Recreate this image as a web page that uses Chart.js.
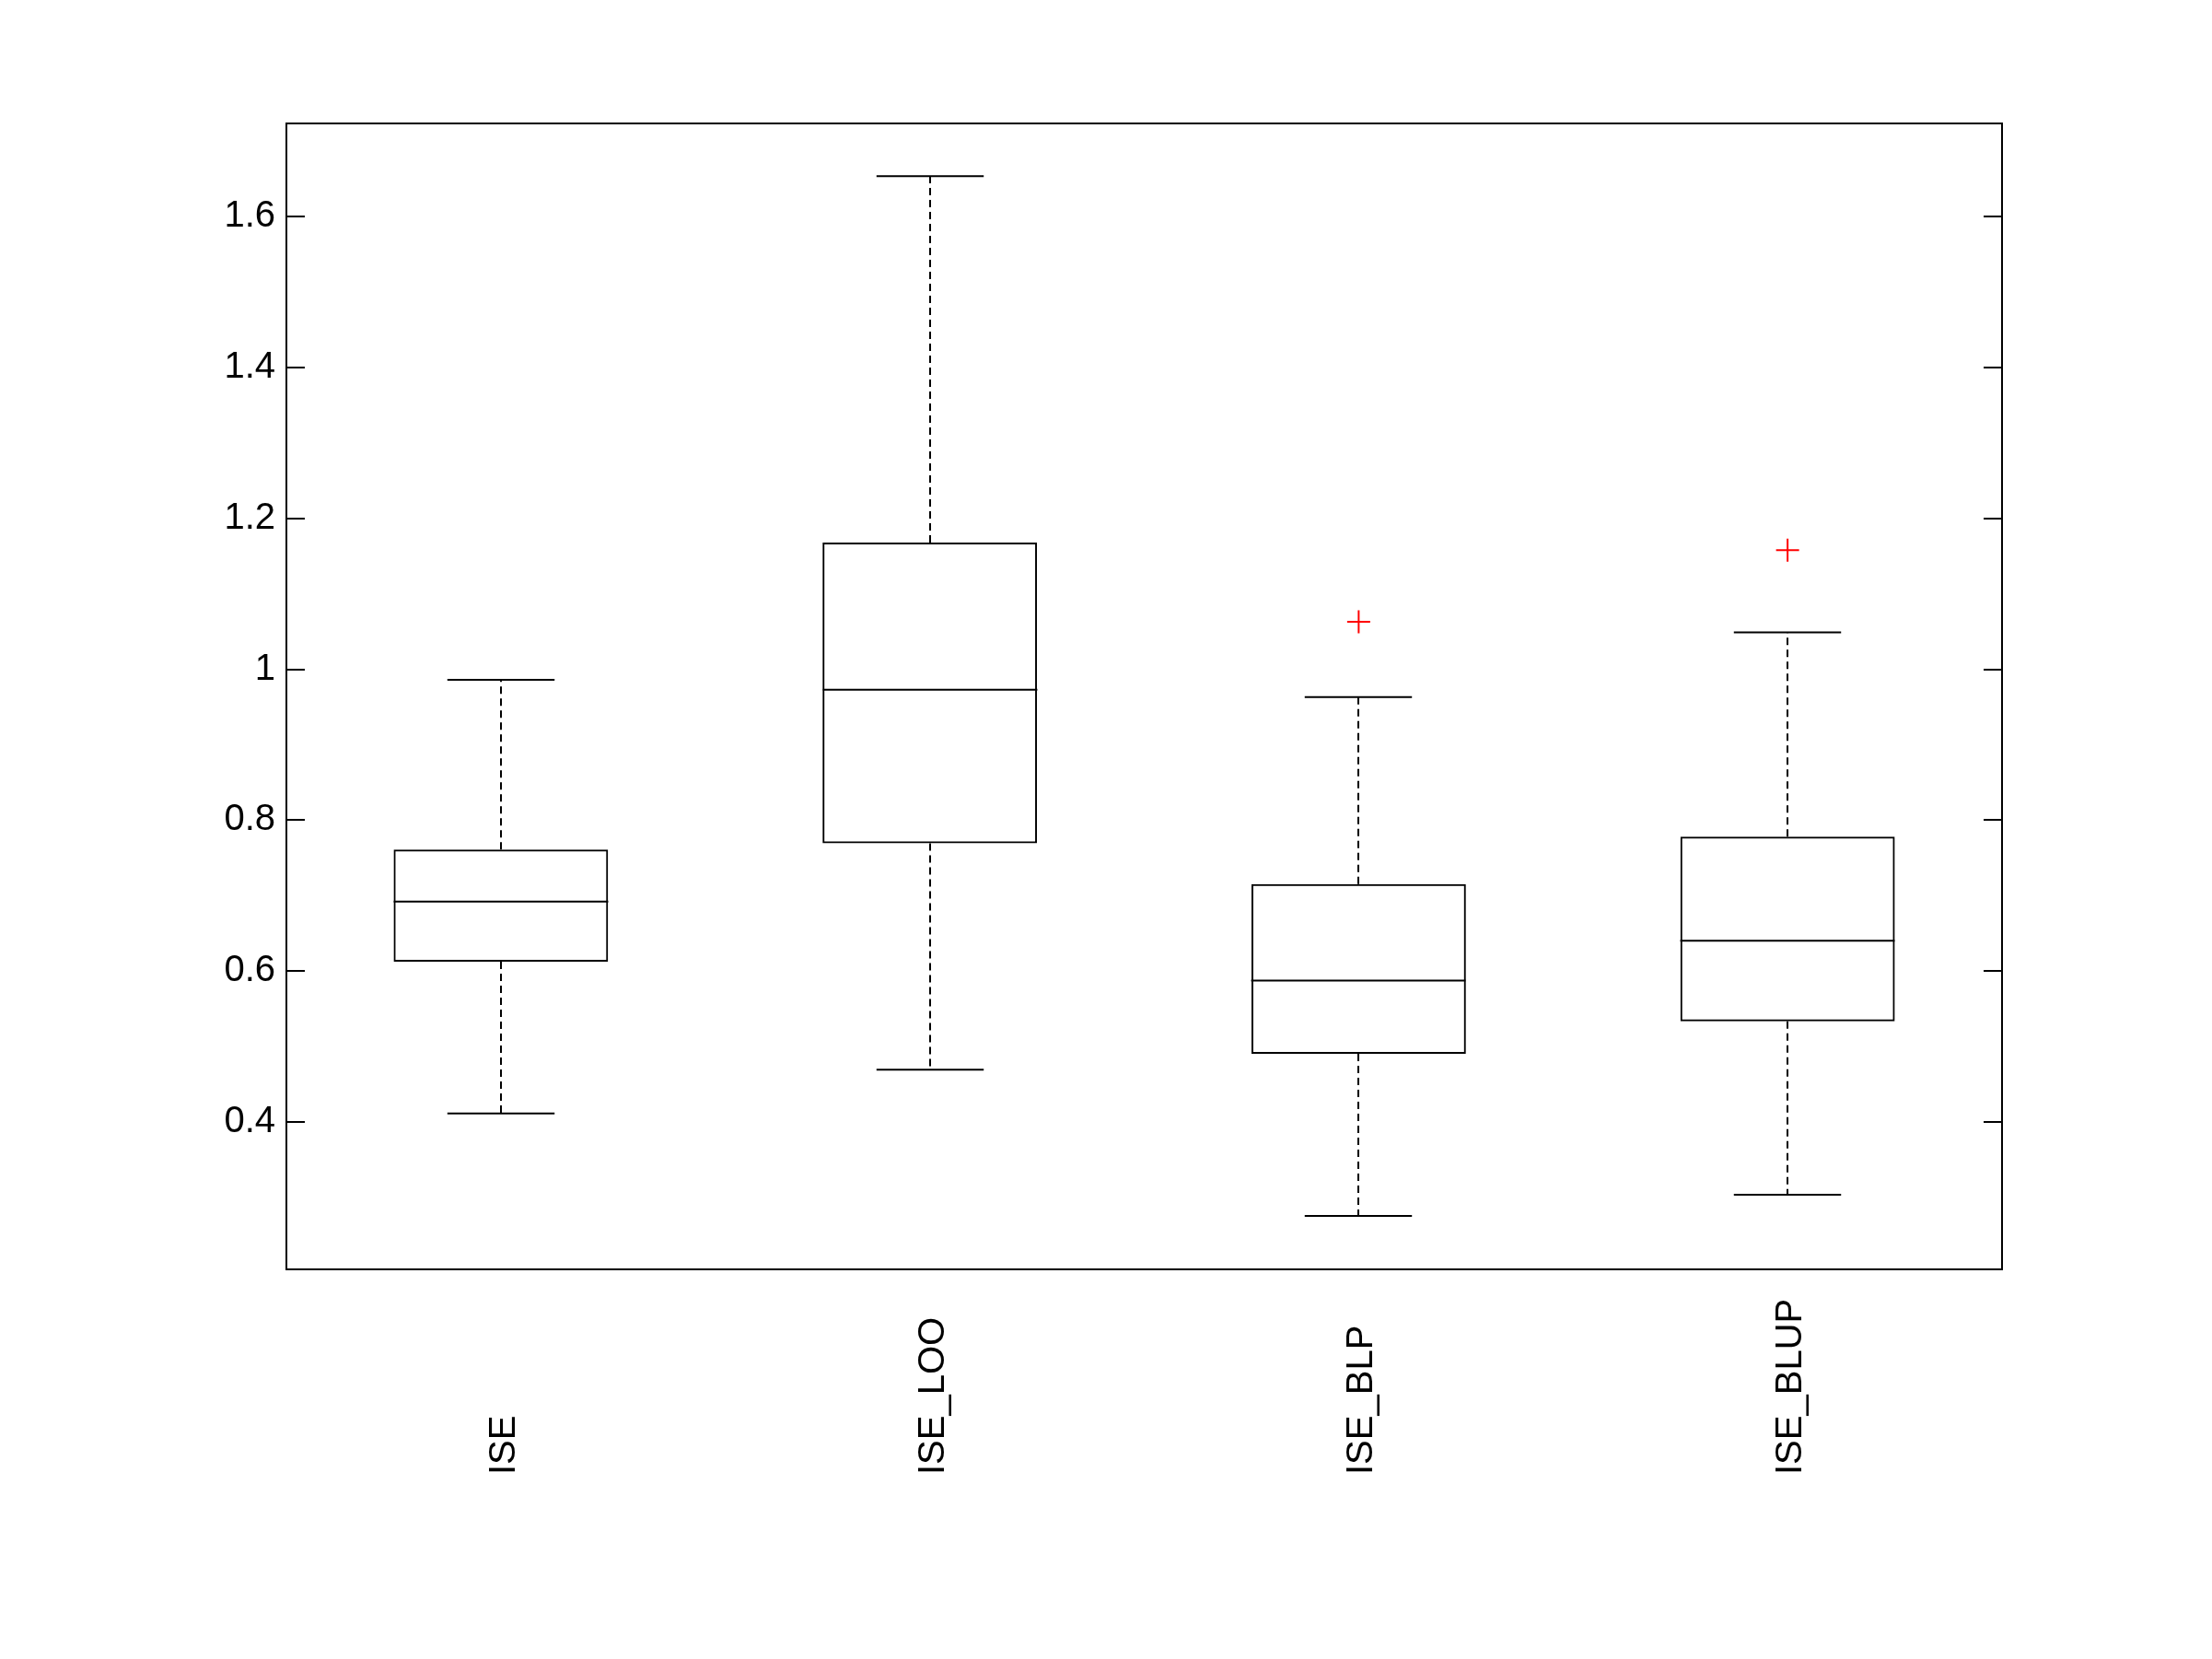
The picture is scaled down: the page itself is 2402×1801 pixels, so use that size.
<!DOCTYPE html>
<html>
<head>
<meta charset="utf-8">
<script src="https://cdn.jsdelivr.net/npm/chart.js@4/dist/chart.umd.min.js"></script>
<style>
  html, body { margin: 0; padding: 0; background: #fff; }
  #wrap { width: 2402px; height: 1801px; }
</style>
</head>
<body>
<div id="wrap"><canvas id="box" width="2402" height="1801"></canvas></div>
<script>
const categories = ["ISE", "ISE_LOO", "ISE_BLP", "ISE_BLUP"];
const whiskerLow = [0.411, 0.469, 0.275, 0.303];
const q1 = [0.612, 0.769, 0.490, 0.533];
const median = [0.692, 0.973, 0.587, 0.640];
const q3 = [0.761, 1.168, 0.715, 0.778];
const whiskerHigh = [0.986, 1.654, 0.963, 1.049];
const outlierCat = ["ISE_BLP", "ISE_BLUP"];
const outlierVal = [1.063, 1.158];
const yTicks = [0.4, 0.6, 0.8, 1.0, 1.2, 1.4, 1.6];

const font = "'Liberation Sans', Arial, sans-serif";

// whiskers, medians, frame, inner ticks and rotated labels
const boxExtras = {
  id: "boxExtras",
  afterDatasetsDraw(chart) {
    const ctx = chart.ctx;
    const x = chart.scales.x;
    const y = chart.scales.y;
    const bars = chart.getDatasetMeta(0).data;
    ctx.save();
    ctx.strokeStyle = "#000";
    ctx.lineWidth = 2;
    categories.forEach((c, i) => {
      const cx = Math.round(x.getPixelForValue(i));
      const half = bars[i].width / 2;
      const cap = half / 2;
      // dashed whiskers
      ctx.setLineDash([8, 5]);
      ctx.beginPath();
      ctx.moveTo(cx, y.getPixelForValue(q3[i]));
      ctx.lineTo(cx, y.getPixelForValue(whiskerHigh[i]));
      ctx.moveTo(cx, y.getPixelForValue(q1[i]));
      ctx.lineTo(cx, y.getPixelForValue(whiskerLow[i]));
      ctx.stroke();
      ctx.setLineDash([]);
      // caps and median
      ctx.beginPath();
      let py = y.getPixelForValue(whiskerHigh[i]);
      ctx.moveTo(cx - cap, py);
      ctx.lineTo(cx + cap, py);
      py = y.getPixelForValue(whiskerLow[i]);
      ctx.moveTo(cx - cap, py);
      ctx.lineTo(cx + cap, py);
      py = y.getPixelForValue(median[i]);
      ctx.moveTo(cx - half, py);
      ctx.lineTo(cx + half, py);
      ctx.stroke();
    });
    ctx.restore();
  },
  afterDraw(chart) {
    const ctx = chart.ctx;
    const a = chart.chartArea;
    const x = chart.scales.x;
    const y = chart.scales.y;
    ctx.save();
    ctx.strokeStyle = "#000";
    ctx.lineWidth = 2;
    ctx.strokeRect(a.left, a.top, a.right - a.left, a.bottom - a.top);
    ctx.beginPath();
    yTicks.forEach(v => {
      const py = Math.round(y.getPixelForValue(v));
      ctx.moveTo(a.left, py);
      ctx.lineTo(a.left + 20, py);
      ctx.moveTo(a.right, py);
      ctx.lineTo(a.right - 20, py);
    });
    ctx.stroke();
    ctx.fillStyle = "#000";
    ctx.font = "40px " + font;
    ctx.textAlign = "left";
    ctx.textBaseline = "middle";
    categories.forEach((c, i) => {
      ctx.save();
      ctx.translate(x.getPixelForValue(i) + 4, a.bottom + 223);
      ctx.rotate(-Math.PI / 2);
      ctx.fillText(c, 0, 0);
      ctx.restore();
    });
    ctx.restore();
  }
};

new Chart(document.getElementById("box"), {
  type: "bar",
  data: {
    labels: categories,
    datasets: [
      {
        label: "box",
        data: q1.map((v, i) => [v, q3[i]]),
        backgroundColor: "rgba(0,0,0,0)",
        borderColor: "#000",
        borderWidth: 2,
        borderSkipped: false,
        barPercentage: 0.5,
        categoryPercentage: 1.0
      },
      {
        type: "scatter",
        label: "outliers",
        data: outlierCat.map((c, i) => ({ x: c, y: outlierVal[i] })),
        pointStyle: "cross",
        radius: 12.5,
        borderColor: "#ff0000",
        borderWidth: 2
      }
    ]
  },
  options: {
    responsive: false,
    animation: false,
    layout: {
      padding: { top: 134, left: 0, right: 228, bottom: 0 }
    },
    plugins: {
      legend: { display: false },
      tooltip: { enabled: false }
    },
    scales: {
      x: {
        type: "category",
        offset: true,
        grid: { display: false, drawTicks: false },
        border: { display: false },
        ticks: { display: false },
        afterFit: s => { s.height = 423; }
      },
      y: {
        min: 0.2041,
        max: 1.7239,
        grid: { display: false, drawTicks: false },
        border: { display: false },
        afterBuildTicks: s => { s.ticks = yTicks.map(v => ({ value: v })); },
        ticks: {
          color: "#000",
          padding: 12,
          font: { family: font, size: 40 },
          callback: v => String(v)
        },
        afterFit: s => { s.width = 311; }
      }
    }
  },
  plugins: [boxExtras]
});
</script>
</body>
</html>
